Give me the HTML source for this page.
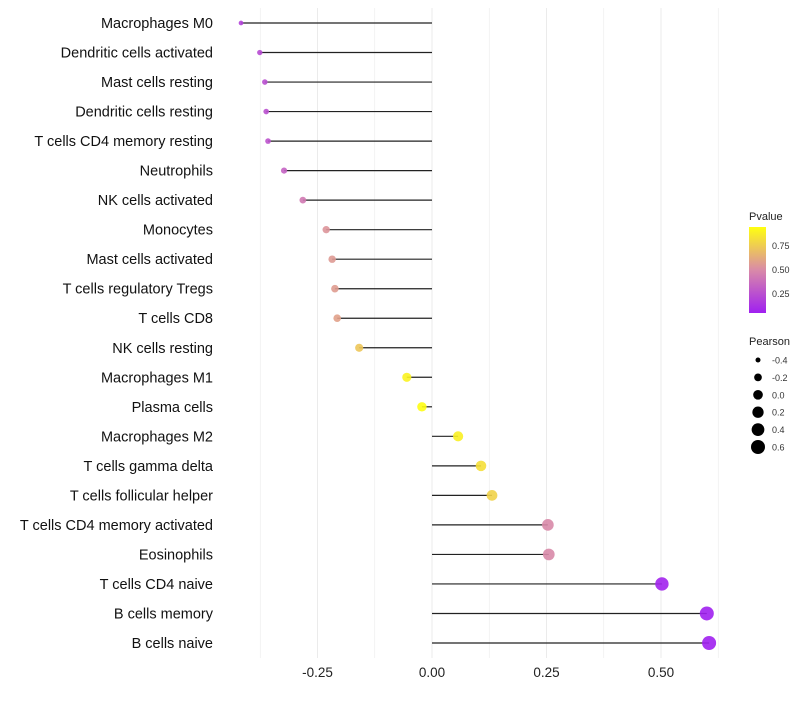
<!DOCTYPE html>
<html><head><meta charset="utf-8"><style>
body{margin:0;background:#fff;font-family:"Liberation Sans",sans-serif;}
svg text{font-family:"Liberation Sans",sans-serif;}
</style></head><body>
<svg id="chart" width="800" height="700" xmlns="http://www.w3.org/2000/svg">
<defs><linearGradient id="pg" x1="0" y1="1" x2="0" y2="0">
<stop offset="0" stop-color="#a020f0"/><stop offset="0.5" stop-color="#d98aa8"/><stop offset="1" stop-color="#ffff10"/></linearGradient></defs>
<g id="grid"></g><g id="marks"></g><g id="labels"></g><g id="xticks"></g>
<g>
<text x="749" y="220" font-size="11" fill="#222">Pvalue</text>
<rect x="749" y="227" width="17" height="86" fill="url(#pg)"/>
<text x="772" y="249" font-size="9" fill="#333">0.75</text>
<text x="772" y="273" font-size="9" fill="#333">0.50</text>
<text x="772" y="297" font-size="9" fill="#333">0.25</text>
</g>
<g id="sizeleg">
<text x="749" y="345" font-size="11" fill="#222">Pearson</text>
</g>
</svg>
<script>
const categories=["Macrophages M0","Dendritic cells activated","Mast cells resting","Dendritic cells resting","T cells CD4 memory resting","Neutrophils","NK cells activated","Monocytes","Mast cells activated","T cells regulatory  Tregs ","T cells CD8","NK cells resting","Macrophages M1","Plasma cells","Macrophages M2","T cells gamma delta","T cells follicular helper","T cells CD4 memory activated","Eosinophils","T cells CD4 naive","B cells memory","B cells naive"];
const pearson=[-0.417,-0.376,-0.365,-0.362,-0.358,-0.323,-0.282,-0.231,-0.218,-0.212,-0.207,-0.159,-0.055,-0.022,0.057,0.107,0.131,0.253,0.255,0.502,0.600,0.605];
const pvalue=[0.18,0.22,0.24,0.25,0.26,0.33,0.43,0.55,0.57,0.58,0.60,0.75,0.93,0.97,0.92,0.85,0.80,0.50,0.50,0.05,0.03,0.03];
const xTicks=[-0.25,0,0.25,0.5];
const xTickLabels=["-0.25","0.00","0.25","0.50"];
const sizeLegend=[-0.4,-0.2,0,0.2,0.4,0.6];
const sizeLegendLabels=["-0.4","-0.2","0.0","0.2","0.4","0.6"];
const NS="http://www.w3.org/2000/svg";
const x=v=>432+v*458;
const y=i=>23+i*(620/21);
const r=v=>Math.sqrt(Math.max(1,23.35+42.75*v));
function lerp(a,b,t){return a.map((c,k)=>Math.round(c+(b[k]-c)*t));}
function col(p){const t=Math.min(1,Math.max(0,(p-0.03)/(0.95)));
 const A=[160,32,240],B=[217,138,168],C=[255,255,16];
 const c=t<0.5?lerp(A,B,t/0.5):lerp(B,C,(t-0.5)/0.5);return `rgb(${c})`;}
function mk(tag,at,parent){const e=document.createElementNS(NS,tag);for(const k in at)e.setAttribute(k,at[k]);parent.appendChild(e);return e;}
const grid=document.getElementById('grid'),marks=document.getElementById('marks'),labels=document.getElementById('labels'),xt=document.getElementById('xticks');
[-0.375,-0.25,-0.125,0,0.125,0.25,0.375,0.5,0.625].forEach(v=>{
 const l=mk('line',{x1:x(v),x2:x(v),y1:8,y2:658,stroke:'#ebebeb','stroke-width':(v*8)%2===0?1:0.6},grid);
 
 
});
categories.forEach((c,i)=>{
 const t=mk('text',{x:213,y:y(i)+5,'font-size':14.5,'text-anchor':'end',fill:'#111'},labels);t.textContent=c;
 
 
 const s=mk('line',{x1:x(0),x2:x(pearson[i]),y1:y(i),y2:y(i),stroke:'#222','stroke-width':1.2},marks);
 
 
 const d=mk('circle',{cx:x(pearson[i]),cy:y(i),r:r(pearson[i]),fill:col(pvalue[i]),'fill-opacity':0.9},marks);
 
 
});
xTicks.forEach((v,i)=>{const t=mk('text',{x:x(v),y:677,'font-size':13.5,'text-anchor':'middle',fill:'#222'},xt);t.textContent=xTickLabels[i];
 
 
});
const sl=document.getElementById('sizeleg');
sizeLegend.forEach((v,i)=>{const cy=360+i*17.4;
 const c=mk('circle',{cx:758,cy:cy,r:r(v),fill:'#000'},sl);
 
 
 const t=mk('text',{x:772,y:cy+3.5,'font-size':9,fill:'#333'},sl);t.textContent=sizeLegendLabels[i];
 
 
});
</script>
</body></html>
